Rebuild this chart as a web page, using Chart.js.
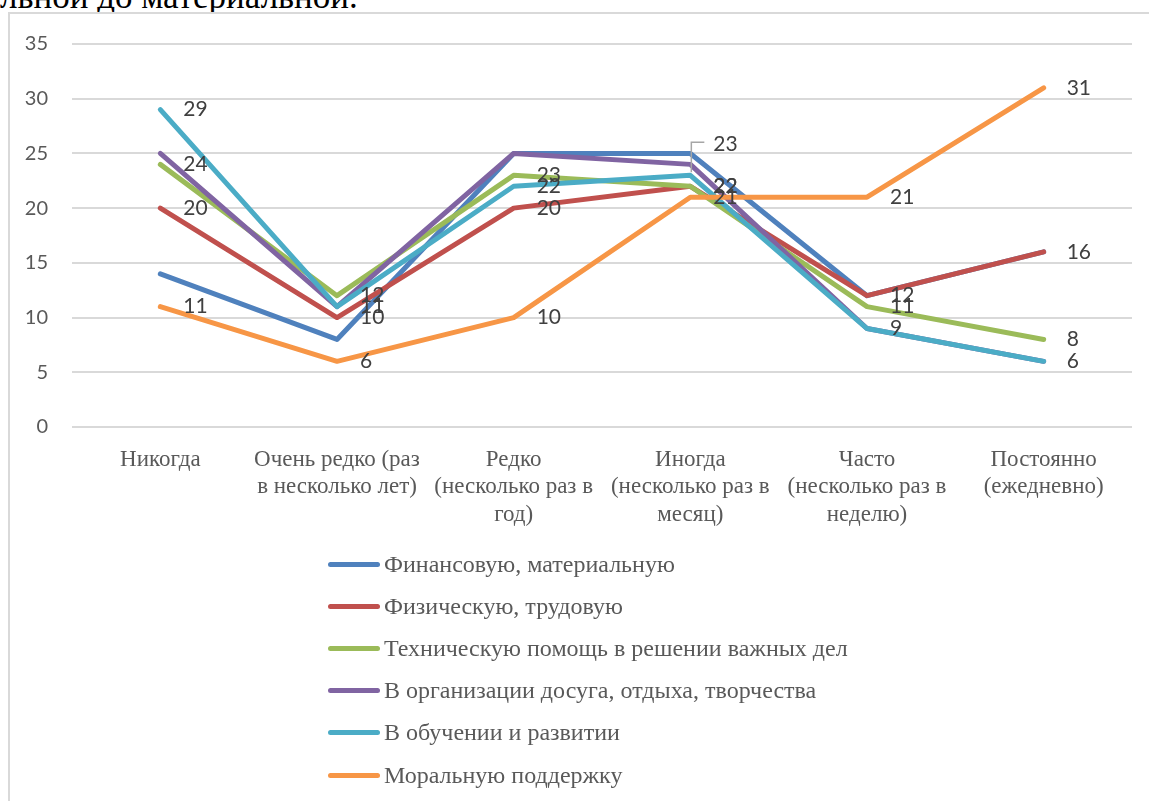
<!DOCTYPE html>
<html lang="ru">
<head>
<meta charset="utf-8">
<title>Виды помощи</title>
<script src="https://cdn.jsdelivr.net/npm/chart.js@4/dist/chart.umd.min.js"></script>
<style>
    body {
        margin: 0;
        width: 1149px;
        height: 801px;
        overflow: hidden;
        background: #fff;
        position: relative;
    }
    .doc-text {
        position: absolute;
        left: 0;
        top: -20px;
        font: 35px/34px "Liberation Serif", serif;
        color: #000;
        white-space: nowrap;
    }
    .frame {
        position: absolute;
        left: 8px;
        top: 12px;
        width: 1160px;
        height: 820px;
        border: 2px solid #d9d9d9;
        box-sizing: border-box;
        background: #fff;
    }
    #chart {
        position: absolute;
        left: 10px;
        top: 8px;
    }
    .legend {
        position: absolute;
        left: 328px;
        top: 543px;
    }
    .legend .row {
        height: 42.2px;
        display: flex;
        align-items: center;
    }
    .legend .swatch {
        width: 52px;
        height: 5px;
        border-radius: 3px;
    }
    .legend .name {
        margin-left: 4px;
        font: 24px "Liberation Serif", serif;
        color: #595959;
        white-space: nowrap;
    }
</style>
</head>
<body>

<div class="doc-text">льной до материальной.</div>
<div class="frame"></div>
<canvas id="chart" width="1139" height="536"></canvas>
<div class="legend" id="legend"></div>

<script>
const categories = [
    ["Никогда"],
    ["Очень редко (раз", "в несколько лет)"],
    ["Редко", "(несколько раз в", "год)"],
    ["Иногда", "(несколько раз в", "месяц)"],
    ["Часто", "(несколько раз в", "неделю)"],
    ["Постоянно", "(ежедневно)"]
];

const seriesNames = [
    "Финансовую, материальную",
    "Физическую, трудовую",
    "Техническую помощь в решении важных дел",
    "В организации досуга, отдыха, творчества",
    "В обучении и развитии",
    "Моральную поддержку"
];

const financial = [14, 8, 25, 25, 12, 16];
const physical = [20, 10, 20, 22, 12, 16];
const technical = [24, 12, 23, 22, 11, 8];
const leisure = [25, 11, 25, 24, 9, 6];
const learning = [29, 11, 22, 23, 9, 6];
const moral = [11, 6, 10, 21, 21, 31];

const yTicks = [0, 5, 10, 15, 20, 25, 30, 35];

const seriesValues = [financial, physical, technical, leisure, learning, moral];
const colors = ["#4F81BD", "#C0504D", "#9BBB59", "#8064A2", "#4BACC6", "#F79646"];

// only these series carry value labels in the original
const labelledSeries = [1, 2, 4, 5];

// the one label moved up with a leader line (series 4, "Иногда")
const callout = { series: 4, index: 3, dy: -31 };

const datasets = seriesValues.map((values, i) => ({
    label: seriesNames[i],
    data: values,
    borderColor: colors[i],
    backgroundColor: colors[i],
    borderWidth: 5,
    borderCapStyle: 'round',
    borderJoinStyle: 'round',
    pointRadius: 0,
    fill: false,
    tension: 0,
    order: seriesValues.length - i
}));

const valueLabels = {
    id: 'valueLabels',
    afterDatasetsDraw(chart) {
        const ctx = chart.ctx;
        ctx.save();
        ctx.font = '21px Lato';
        ctx.fillStyle = '#404040';
        ctx.textAlign = 'left';
        ctx.textBaseline = 'middle';

        labelledSeries.forEach(s => {
            const meta = chart.getDatasetMeta(s);
            meta.data.forEach((pt, j) => {
                let x = pt.x + 23;
                let y = pt.y;
                if (s === callout.series && j === callout.index) {
                    y += callout.dy;
                    ctx.strokeStyle = '#a6a6a6';
                    ctx.lineWidth = 1.5;
                    ctx.beginPath();
                    ctx.moveTo(pt.x + 1, pt.y - 3);
                    ctx.lineTo(pt.x + 1, y - 2);
                    ctx.lineTo(pt.x + 14, y - 2);
                    ctx.stroke();
                }
                ctx.fillText(chart.data.datasets[s].data[j], x, y);
            });
        });

        ctx.restore();
    }
};

new Chart(document.getElementById('chart'), {
    type: 'line',
    data: {
        labels: categories,
        datasets: datasets
    },
    options: {
        responsive: false,
        animation: false,
        layout: {
            padding: { top: 22, right: 17, left: 0, bottom: 0 }
        },
        scales: {
            x: {
                offset: true,
                grid: { display: false },
                border: { display: false },
                ticks: {
                    autoSkip: false,
                    maxRotation: 0,
                    minRotation: 0,
                    padding: 11,
                    color: '#595959',
                    font: { family: 'Liberation Serif', size: 23, lineHeight: 1.2 }
                },
                afterFit(scale) {
                    scale.height = 117;
                }
            },
            y: {
                min: 0,
                max: 35,
                afterBuildTicks(scale) {
                    scale.ticks = yTicks.map(v => ({ value: v }));
                },
                grid: {
                    color: '#d9d9d9',
                    lineWidth: 2,
                    drawTicks: false
                },
                border: { display: false },
                ticks: {
                    padding: 24,
                    color: '#595959',
                    font: { family: 'Lato', size: 20 }
                },
                afterFit(scale) {
                    scale.width = 62;
                }
            }
        },
        plugins: {
            legend: { display: false },
            tooltip: { enabled: false }
        }
    },
    plugins: [valueLabels]
});

const legendBox = document.getElementById('legend');
seriesNames.forEach((name, i) => {
    const row = document.createElement('div');
    row.className = 'row';
    const swatch = document.createElement('span');
    swatch.className = 'swatch';
    swatch.style.background = colors[i];
    const text = document.createElement('span');
    text.className = 'name';
    text.textContent = name;
    row.appendChild(swatch);
    row.appendChild(text);
    legendBox.appendChild(row);
});
</script>
</body>
</html>
